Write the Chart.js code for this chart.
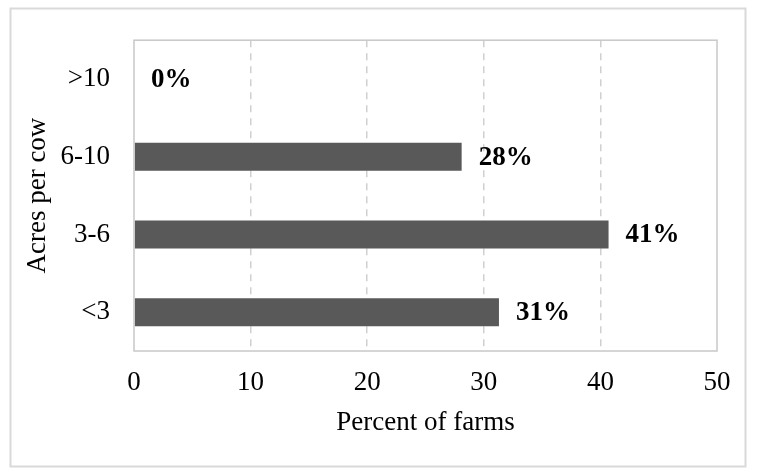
<!DOCTYPE html>
<html>
<head>
<meta charset="utf-8">
<script src="https://cdn.jsdelivr.net/npm/chart.js@4.4.1/dist/chart.umd.min.js"></script>
<style>
  html, body { margin: 0; padding: 0; background: #fff; }
  #wrap { position: relative; width: 758px; height: 474px; }
</style>
</head>
<body>
<div id="wrap"><canvas id="chart" width="758" height="474"></canvas></div>
<script>
// data (top to bottom)
const categories = [">10", "6-10", "3-6", "<3"];
const farmsPct = [0, 28.1, 40.7, 31.3];
const xTicks = [0, 10, 20, 30, 40, 50];

const SERIF = '"Liberation Serif", "Times New Roman", serif';
const BAR = "#595959";
const GRID = "#d0d0d0";
const FRAME = "#c8c8c8";

// white background, outer box and plot frame
const framePlugin = {
  id: "frame",
  beforeDraw(chart){
    const ctx = chart.ctx;
    ctx.save();
    ctx.fillStyle = "#fff";
    ctx.fillRect(0, 0, chart.width, chart.height);
    ctx.strokeStyle = "#d9d9d9";
    ctx.lineWidth = 2;
    ctx.strokeRect(10.5, 8.5, 735, 458);
    ctx.restore();
  },
  afterDatasetsDraw(chart){
    const {ctx, chartArea: a} = chart;
    ctx.save();
    ctx.strokeStyle = FRAME;
    ctx.lineWidth = 1.5;
    ctx.strokeRect(a.left, a.top, a.right - a.left, a.bottom - a.top);
    ctx.restore();
  }
};

// bold percentage labels to the right of each bar
const valueLabels = {
  id: "valueLabels",
  afterDatasetsDraw(chart){
    const ctx = chart.ctx;
    const meta = chart.getDatasetMeta(0);
    ctx.save();
    ctx.font = "bold 27px " + SERIF;
    ctx.fillStyle = "#000";
    ctx.textAlign = "left";
    ctx.textBaseline = "middle";
    meta.data.forEach((bar, i) => {
      ctx.fillText(Math.round(farmsPct[i]) + "%", bar.x + 17, bar.y + 1);
    });
    ctx.restore();
  }
};

new Chart(document.getElementById("chart"), {
  type: "bar",
  data: {
    labels: categories,
    datasets: [{
      data: farmsPct,
      backgroundColor: BAR,
      borderWidth: 0,
      barPercentage: 0.36,
      categoryPercentage: 1
    }]
  },
  options: {
    indexAxis: "y",
    responsive: false,
    animation: false,
    devicePixelRatio: 1,
    layout: { padding: { top: 38, right: 41, left: 0, bottom: 0 } },
    plugins: { legend: { display: false }, tooltip: { enabled: false } },
    scales: {
      x: {
        min: 0, max: 50,
        afterBuildTicks(scale){ scale.ticks = xTicks.map(v => ({ value: v })); },
        afterFit(scale){ scale.height = 123; },
        grid: {
          drawTicks: false,
          color: c => (c.tick && (c.tick.value === 0 || c.tick.value === 50)) ? "rgba(0,0,0,0)" : GRID,
          lineWidth: 1.5
        },
        border: { display: false, dash: [7, 6] },
        ticks: { padding: 16, color: "#000", font: { family: SERIF, size: 27 } },
        title: {
          display: true,
          text: "Percent of farms",
          color: "#000",
          font: { family: SERIF, size: 27 },
          padding: { top: 0, bottom: 35 }
        }
      },
      y: {
        afterFit(scale){ scale.width = 134; },
        grid: { display: false, drawTicks: false },
        border: { display: false },
        ticks: { padding: 24, color: "#000", font: { family: SERIF, size: 27 } },
        title: {
          display: true,
          text: "Acres per cow",
          color: "#000",
          font: { family: SERIF, size: 27 },
          padding: { top: 22, bottom: 0 }
        }
      }
    }
  },
  plugins: [framePlugin, valueLabels]
});
</script>
</body>
</html>
